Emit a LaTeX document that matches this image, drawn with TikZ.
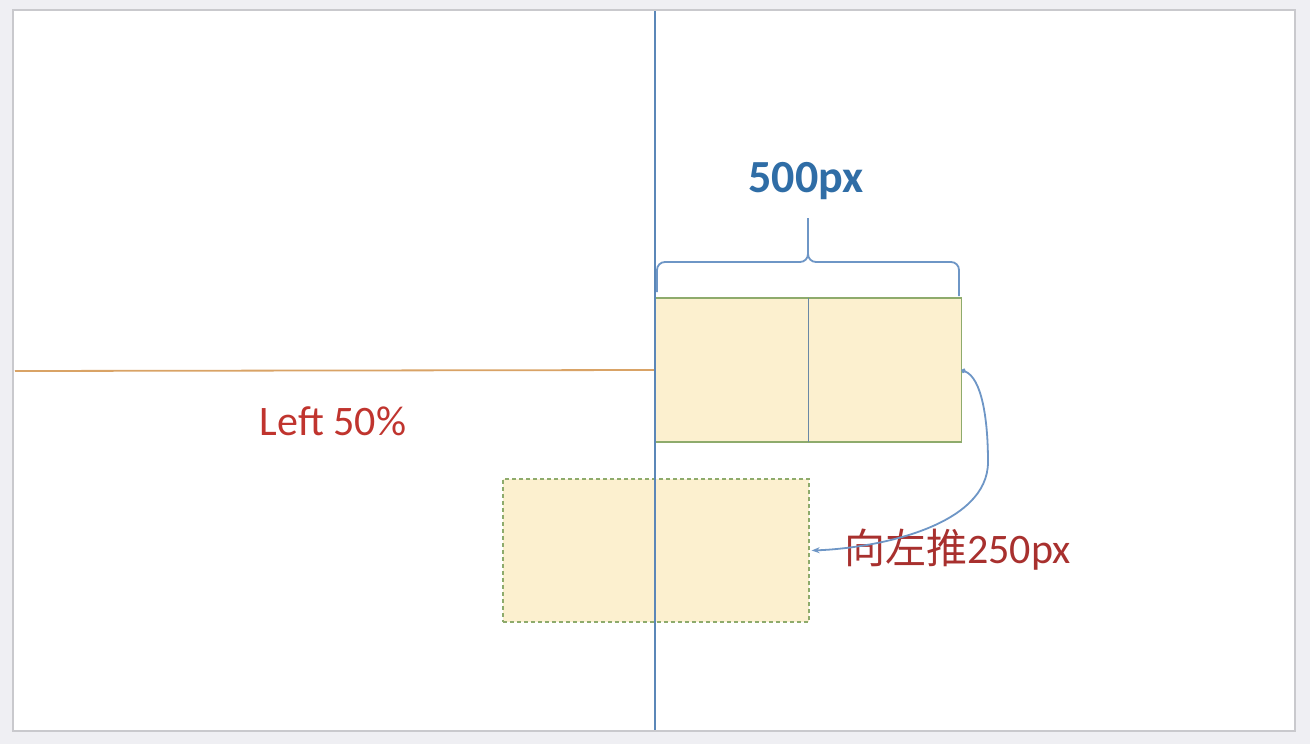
\documentclass[tikz,border=0pt]{standalone}
\usepackage{fontspec}
\setmainfont{Carlito}
\newfontfamily\cjk{Noto Sans CJK SC}
\usetikzlibrary{arrows.meta}
\definecolor{pagebg}{HTML}{EFEFF3}
\definecolor{frameline}{HTML}{C9C9CD}
\definecolor{axisblue}{HTML}{5B87B8}
\definecolor{braceblue}{HTML}{6E96C6}
\definecolor{titleblue}{HTML}{2F6DA6}
\definecolor{leftred}{HTML}{C0342E}
\definecolor{cnred}{HTML}{A8302E}
\definecolor{orangeline}{HTML}{D9A366}
\definecolor{boxfill}{HTML}{FCF0CF}
\definecolor{boxline}{HTML}{8EAB6C}
\definecolor{divider}{HTML}{6A88A6}
\tikzset{
  cell/.style={draw=boxline, fill=boxfill, line width=1.6pt, minimum width=153pt, minimum height=144pt, inner sep=0pt, outer sep=0pt},
  movedbox/.style={draw=boxline, fill=boxfill, line width=1.3pt, dashed, dash pattern=on 4pt off 3pt, minimum width=306pt, minimum height=143pt, inner sep=0pt},
  bigtext/.style={font=\fontsize{42}{50}\selectfont, inner sep=0pt},
}
\begin{document}
\begin{tikzpicture}[x=1pt,y=-1pt]
\useasboundingbox (0,0) rectangle (1310,744);
\fill[pagebg] (0,0) rectangle (1310,744);
\draw[frameline, line width=2pt, fill=white] (13,10) rectangle (1295,731);

% moved (dashed) box
\node[movedbox] (moved) at (656,550.5) {};

% top boxes
\node[cell] (cellA) at (732,370) {};
\node[cell] (cellB) at (885,370) {};
\draw[divider, line width=1.8pt] (cellA.north east) -- (cellA.south east);

% orange horizontal line
\coordinate (leftend) at (15,371);
\draw[orangeline, line width=1.8pt] (leftend) -- (cellA.west);

% vertical blue axis
\coordinate (axtop) at (655,11);
\coordinate (axbot) at (655,730);
\draw[axisblue, line width=1.6pt] (axtop) -- (axbot);

% brace
\draw[braceblue, line width=1.8pt, rounded corners=8pt]
  (657,292) -- (657,262) -- (808,262) -- (808,245);
\draw[braceblue, line width=1.8pt, rounded corners=8pt]
  (959,296) -- (959,262) -- (808,262) -- (808,245);
\draw[braceblue, line width=1.8pt] (808,250) -- (808,218);

% labels
\node[inner sep=0pt, text=titleblue, font=\fontsize{46}{52}\selectfont\bfseries] (w) at (806,181) {500px};
\node[bigtext, text=leftred] (left) at (333,421) {Left 50\%};
\node[bigtext, text=cnred, anchor=west] (push) at (844,550) {{\cjk\fontsize{41}{48}\selectfont 向左推}250px};

% curved arrow
\coordinate (astart) at (cellB.east);
\coordinate (amid) at (988,462);
\coordinate (aend) at (moved.east);
\draw[braceblue, line width=1.8pt, {Circle[length=4.5pt]}-{Stealth[length=8pt,width=6pt]}]
  (astart) .. controls (982,378) and (988,420) .. (amid)
  .. controls (988,525) and (880,548) .. ([xshift=2pt]aend);
\end{tikzpicture}
\end{document}
